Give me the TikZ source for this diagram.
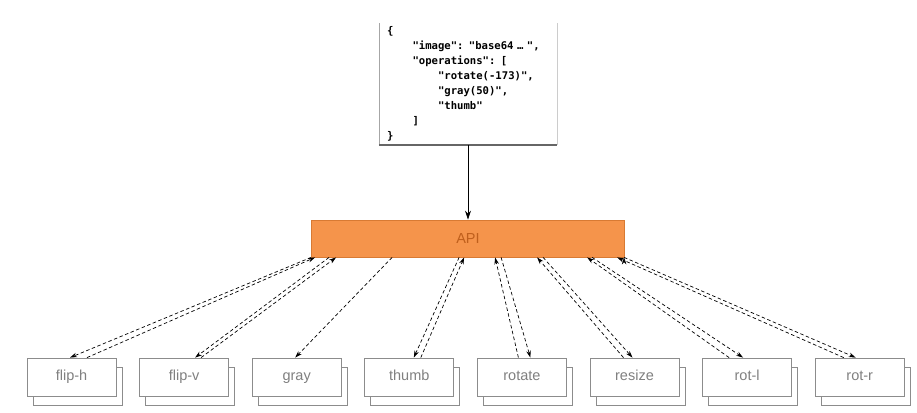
\documentclass[tikz,border=0pt]{standalone}
\usepackage{fontspec}
\setsansfont{Liberation Sans}
\newfontfamily\jsonfont{DejaVu Sans Mono}
\usetikzlibrary{arrows.meta, positioning, shadows}
\definecolor{apifill}{HTML}{F5944B}
\definecolor{apiline}{HTML}{D87A33}
\definecolor{apitext}{HTML}{BF5F1C}
\newcommand{\jind}{\phantom{0000}}

\begin{document}
\begin{tikzpicture}[x=1pt, y=1pt, node distance={112.6pt}, on grid,
	op/.style = {draw=black!45, fill=white, line width=0.8pt, minimum width=89pt, minimum height=38pt, inner sep=0pt,
		text height=10.5pt, text depth=3pt,
		font=\sffamily\fontsize{14.5}{16}\selectfont, text=black!50,
		copy shadow={shadow xshift=6pt, shadow yshift=-9pt, draw=black!45, fill=white}},
	call/.style = {-{Stealth[length=7pt, width=4.5pt]}, dash pattern=on 3.5pt off 2.5pt, line width=0.7pt}]
	\useasboundingbox (0,0) rectangle (917,412);
	% request body
	\node[fill=white, minimum width=178pt, minimum height=114pt, inner xsep=8pt, text width=162pt, align=left,
		font=\jsonfont\bfseries\fontsize{10.6}{15}\selectfont] (doc) at (468,328) {%
		\{\\
		\jind"image": "base64 … ",\\
		\jind"operations": [\\
		\jind\jind"rotate(-173)",\\
		\jind\jind"gray(50)",\\
		\jind\jind"thumb"\\
		\jind]\\
		\}};
	\draw[black!35] (doc.north west) -- (doc.south west);
	\draw[black!20] (doc.north east) -- (doc.south east);
	\draw[black!60, line width=2pt] (doc.south west) -- (doc.south east);
	\node[draw=apiline, fill=apifill, text=apitext, line width=0.8pt, minimum width=313pt, minimum height=37pt,
		font=\sffamily\fontsize{14.5}{16}\selectfont] (api) at (468,173.5) {API};
	\draw[-{Stealth[length=9pt, width=6pt]}, line width=0.8pt] (doc) -- (api);
	% operations
	\node[op] (fliph) at (71.5,35) {flip-h};
	\node[op] (flipv) [right of=fliph] {flip-v};
	\node[op] (gray) [right of=flipv] {gray};
	\node[op] (thumb) [right of=gray] {thumb};
	\node[op] (rotate) [right of=thumb] {rotate};
	\node[op] (resize) [right of=rotate] {resize};
	\node[op] (rotl) [right of=resize] {rot-l};
	\node[op] (rotr) [right of=rotl] {rot-r};
	\path[call, draw]
	([xshift=0pt]api.south west) edge ([xshift=-1.5pt]fliph.north)
	([xshift=15.5pt]fliph.north) edge ([xshift=4pt]api.south west)
	([xshift=18pt]api.south west) edge ([xshift=11pt]flipv.north)
	([xshift=17pt]flipv.north) edge ([xshift=25pt]api.south west)
	([xshift=81pt]api.south west) edge ([xshift=-1.5pt]gray.north)
	([xshift=148pt]api.south west) edge ([xshift=4.5pt]thumb.north)
	([xshift=11.5pt]thumb.north) edge ([xshift=153pt]api.south west)
	([xshift=-3.5pt]rotate.north) edge ([xshift=184pt]api.south west)
	([xshift=190pt]api.south west) edge ([xshift=8.5pt]rotate.north)
	([xshift=-11pt]resize.north) edge ([xshift=226pt]api.south west)
	([xshift=232pt]api.south west) edge ([xshift=-2pt]resize.north)
	([xshift=-18pt]rotl.north) edge ([xshift=276pt]api.south west)
	([xshift=281pt]api.south west) edge ([xshift=-4pt]rotl.north)
	([xshift=-16pt]rotr.north) edge ([xshift=306pt]api.south west)
	([xshift=313pt]api.south west) edge ([xshift=-4pt]rotr.north);
\end{tikzpicture}
\end{document}
